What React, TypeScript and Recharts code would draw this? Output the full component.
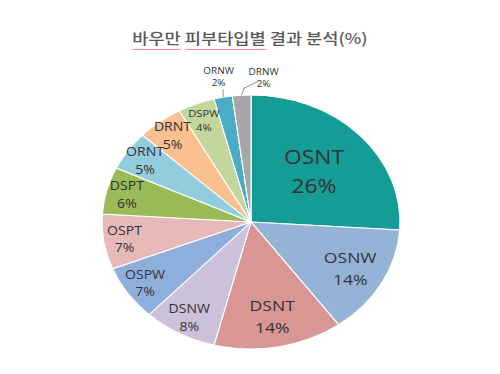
import { Cell, Pie, PieChart } from "recharts";

const skinTypes = ["OSNT", "OSNW", "DSNT", "DSNW", "OSPW", "OSPT", "DSPT", "ORNT", "DRNT", "DSPW", "ORNW", "DRNW"];
const shares = [26, 14, 14, 8, 7, 7, 6, 5, 5, 4, 2, 2];
const sliceColors = [
	"#159c97",
	"#95b3d7",
	"#d99694",
	"#ccc1da",
	"#8eaedc",
	"#e6b9b8",
	"#9bbb59",
	"#93cddd",
	"#fac090",
	"#c3d69b",
	"#4bacc6",
	"#a6a6a6",
];

const chartData = skinTypes.map((name, i) => ({ name, value: shares[i] }));

// the original picture is stretched sideways, so the whole chart is drawn narrow and scaled
const STRETCH = 1.173;
const W = 426;
const H = 374;
const RADIAN = Math.PI / 180;

function labelStyle(value: number) {
	if (value >= 20) return { ratio: 0.58, size: 19.5 };
	if (value >= 10) return { ratio: 0.76, size: 15 };
	if (value >= 5) return { ratio: 0.86, size: 12 };
	if (value >= 3) return { ratio: 0.86, size: 9.5 };
	return { ratio: 1.16, size: 8.5 };
}

function SliceLabel(props: any) {
	const { cx, cy, midAngle, outerRadius, value, name, index } = props;
	const { ratio, size } = labelStyle(value);
	const cos = Math.cos(-midAngle * RADIAN);
	const sin = Math.sin(-midAngle * RADIAN);
	const outside = ratio > 1;
	// two small outside labels side by side: push the second one to the right
	const nudge = outside && shares[index - 1] <= 2 ? 20 : 0;
	const r = outerRadius * ratio;
	const x = cx + r * cos + nudge;
	const y = cy + r * sin + (nudge ? 3 : 0);
	const gap = size * 1.45;
	const x1 = cx + outerRadius * cos;
	const y1 = cy + outerRadius * sin;
	return (
		<g>
			{outside && (
				<polyline
					points={
						nudge
							? `${x1},${y1} ${x1 + 2},${y1 - 7} ${x - 4},${y + 3}`
							: `${x1},${y1} ${x1},${y1 - 8}`
					}
					fill="none"
					stroke="#808080"
					strokeWidth={0.8}
				/>
			)}
			<text
				x={x}
				y={y}
				textAnchor="middle"
				fill="#333"
				fontSize={size}
				fontFamily="'Open Sans', sans-serif"
			>
				<tspan x={x} dy={-gap / 2 + size * 0.35}>
					{name}
				</tspan>
				<tspan x={x} dy={gap}>
					{value}%
				</tspan>
			</text>
		</g>
	);
}

// spell-check style pink underline seen in the source screenshot
const underline = {
	borderBottom: "1.5px solid #f08aa8",
	paddingBottom: 1,
};

export default function App() {
	return (
		<div style={{ position: "fixed", left: 0, top: 0, width: 500, height: 374, overflow: "hidden", background: "#fff" }}>
			<div style={{ position: "relative", width: W, height: H, transform: `scaleX(${STRETCH})`, transformOrigin: "0 0" }}>
				<div
					style={{
						position: "absolute",
						top: 28,
						left: 0,
						width: W,
						textAlign: "center",
						fontFamily: "'Noto Sans CJK KR', sans-serif",
						fontSize: 15,
						lineHeight: "20px",
						fontWeight: 500,
						color: "#595959",
					}}
				>
					<span style={underline}>바우만</span> <span style={underline}>피부타입별</span> 결과 분석(%)
				</div>
				<PieChart width={W} height={H} margin={{ top: 0, right: 0, bottom: 0, left: 0 }}>
					<Pie
						data={chartData}
						dataKey="value"
						nameKey="name"
						cx={214}
						cy={222}
						outerRadius={127}
						startAngle={90}
						endAngle={-270}
						stroke="#fff"
						strokeWidth={1}
						label={SliceLabel}
						labelLine={false}
						isAnimationActive={false}
					>
						{chartData.map((d, i) => (
							<Cell key={d.name} fill={sliceColors[i]} />
						))}
					</Pie>
				</PieChart>
			</div>
		</div>
	);
}
